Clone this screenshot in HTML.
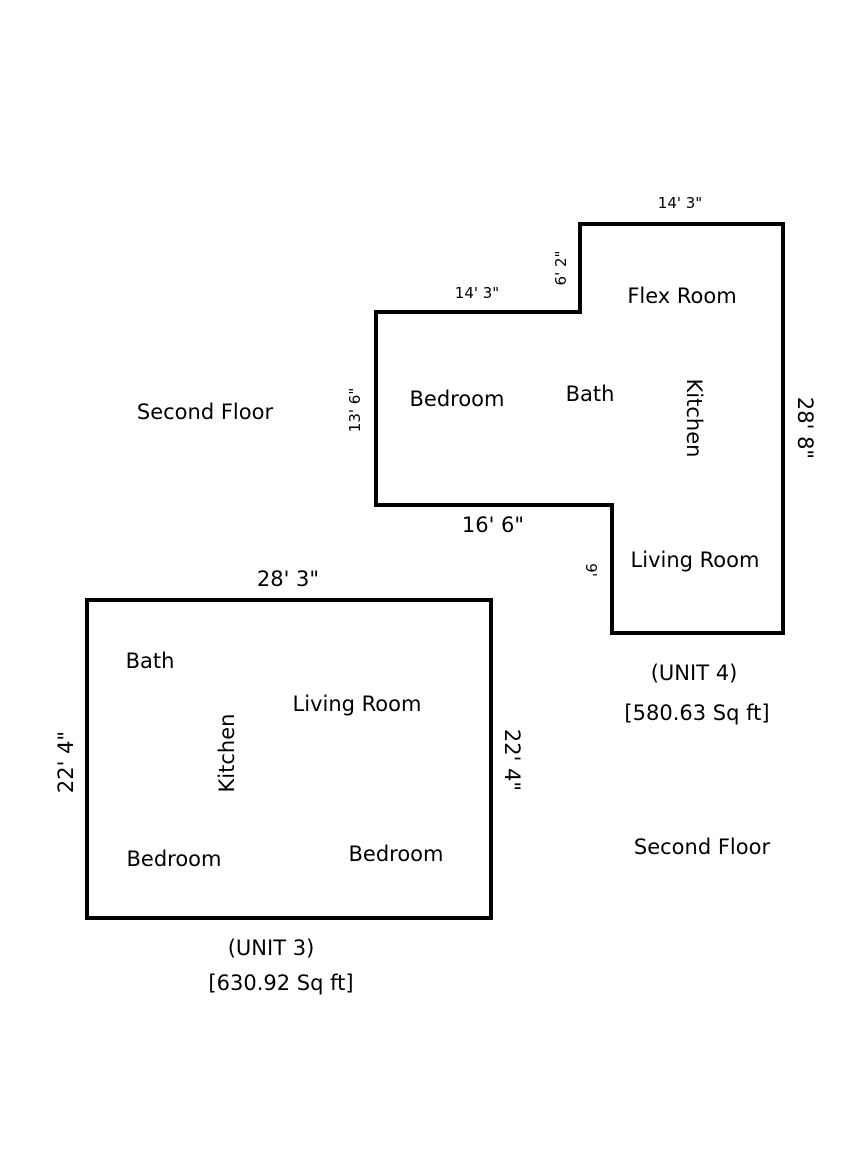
<!DOCTYPE html>
<html><head><meta charset="utf-8"><style>
html,body{margin:0;padding:0;background:#fff;}
svg{display:block;}
text{font-family:"DejaVu Sans","Liberation Sans",sans-serif;fill:#000;}
.l{font-size:21px;}
.s{font-size:15px;}
</style></head><body>
<svg width="864" height="1176" viewBox="0 0 864 1176">
<polygon points="376,312 580,312 580,224 783,224 783,633 612,633 612,505 376,505" fill="none" stroke="#000" stroke-width="4"/>
<rect x="87" y="600" width="404" height="318" fill="none" stroke="#000" stroke-width="4"/>

<text class="s" x="680" y="208" text-anchor="middle">14' 3"</text>
<text class="s" x="477" y="298" text-anchor="middle">14' 3"</text>
<text class="s" transform="translate(566,268) rotate(-90)" text-anchor="middle">6' 2"</text>
<text class="s" transform="translate(360,410) rotate(-90)" text-anchor="middle">13' 6"</text>
<text class="l" x="493" y="532" text-anchor="middle">16' 6"</text>
<text class="s" transform="translate(586,570) rotate(90)" text-anchor="middle">9'</text>
<text class="l" transform="translate(798,428) rotate(90)" text-anchor="middle">28' 8"</text>

<text class="l" x="682" y="303" text-anchor="middle">Flex Room</text>
<text class="l" x="457" y="406" text-anchor="middle">Bedroom</text>
<text class="l" x="590" y="401" text-anchor="middle">Bath</text>
<text class="l" transform="translate(687,418) rotate(90)" text-anchor="middle">Kitchen</text>
<text class="l" x="695" y="567" text-anchor="middle">Living Room</text>
<text class="l" x="694" y="680" text-anchor="middle">(UNIT 4)</text>
<text class="l" x="697" y="720" text-anchor="middle">[580.63 Sq ft]</text>
<text class="l" x="205" y="419" text-anchor="middle">Second Floor</text>
<text class="l" x="702" y="854" text-anchor="middle">Second Floor</text>

<text class="l" x="288" y="586" text-anchor="middle">28' 3"</text>
<text class="l" transform="translate(73,762) rotate(-90)" text-anchor="middle">22' 4"</text>
<text class="l" transform="translate(505,760) rotate(90)" text-anchor="middle">22' 4"</text>
<text class="l" x="150" y="668" text-anchor="middle">Bath</text>
<text class="l" x="357" y="711" text-anchor="middle">Living Room</text>
<text class="l" transform="translate(234,753) rotate(-90)" text-anchor="middle">Kitchen</text>
<text class="l" x="174" y="866" text-anchor="middle">Bedroom</text>
<text class="l" x="396" y="861" text-anchor="middle">Bedroom</text>
<text class="l" x="271" y="955" text-anchor="middle">(UNIT 3)</text>
<text class="l" x="281" y="990" text-anchor="middle">[630.92 Sq ft]</text>
</svg>
</body></html>
